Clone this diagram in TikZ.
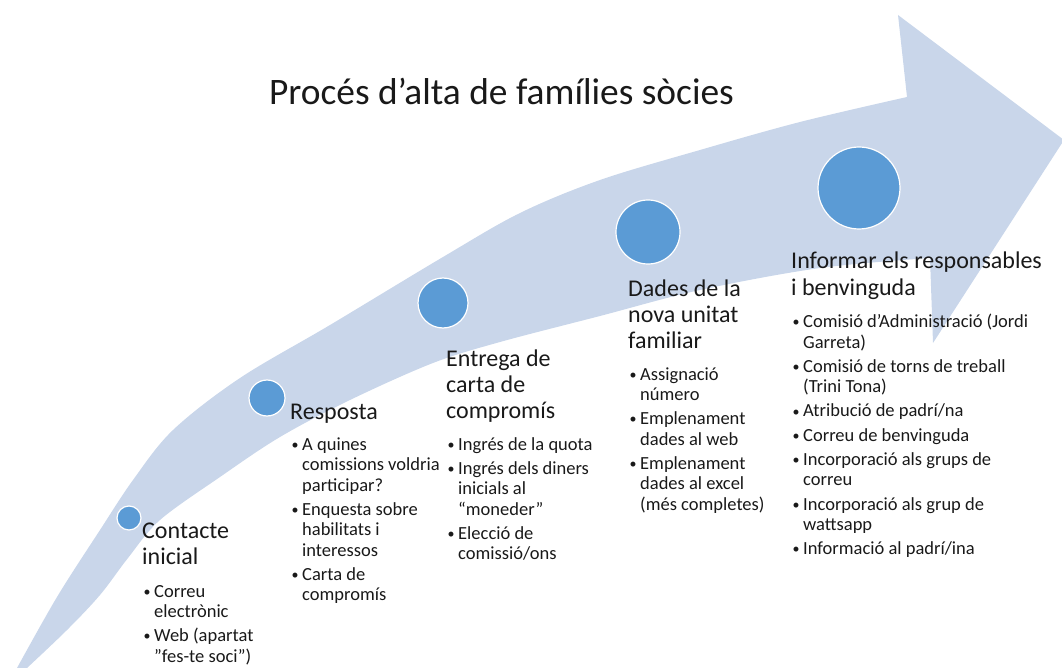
\documentclass[tikz,border=0pt]{standalone}
\usepackage{fontspec}
\setmainfont{Carlito}
\usetikzlibrary{calc}

\definecolor{bandblue}{RGB}{201,214,234}
\definecolor{stepblue}{RGB}{91,155,213}
\definecolor{steptext}{RGB}{25,25,25}

\tikzset{
  stepdot/.style={circle, fill=stepblue, draw=white, line width=1.2pt, inner sep=0pt, minimum size=#1},
  stephead/.style={anchor=base west, inner sep=0pt, text=steptext, font=\fontsize{24}{26.4}\selectfont},
  steplist/.style={anchor=base west, inner sep=0pt, text=steptext, font=\fontsize{18.5}{20.5}\selectfont}
}
% text block of a step, first baseline on the node's base
\newcommand{\blk}[1]{\parbox[t]{270pt}{#1\par}}
% one bullet of a step list
\newcommand{\bul}[1]{\par\parskip=3.7pt\hangindent=12pt\hangafter=1\noindent
  \hspace*{1.5pt}\makebox[10.5pt][l]{\raisebox{0.8pt}{\fontsize{14}{14}\selectfont •}}#1}

\begin{document}
\begin{tikzpicture}[x=1pt,y=-1pt]
  \useasboundingbox (0,0) rectangle (1062,668);

  % the curved arrow
  \fill[bandblue] plot[smooth, tension=0.55] coordinates {(17,668) (57,597) (100,530) (133,480) (173,430)
      (240,378) (330,325) (443,257) (520,213) (600,180) (700,150) (800,122) (907,97)}
    -- (898,15) -- (1064,140) -- (933,343) -- (930,258)
    -- plot[smooth, tension=0.55] coordinates {(930,258) (820,268) (700,290) (600,316) (500,342)
      (433,363) (350,400) (280,437) (220,477) (160,520) (128,558) (100,595) (67,630) (27,668)}
    -- cycle;

  \node[anchor=base, inner sep=0pt, text=steptext, font=\fontsize{37.4}{40}\selectfont] (title) at (501.5,105)
    {Procés d’alta de famílies sòcies};

  \node[stepdot=24pt] (contacte) at (129,518) {};
  \node[stepdot=36pt] (resposta) at (267,398) {};
  \node[stepdot=50pt] (entrega) at (443,303) {};
  \node[stepdot=64pt] (dades) at (648,232) {};
  \node[stepdot=82pt] (informar) at (859,188) {};

  \node[stephead] (contacte-h) at (142,538) {\blk{Contacte\\inicial}};
  \node[steplist] (contacte-l) at (142,597)
    {\blk{\bul{Correu\newline electrònic}\bul{Web (apartat\newline ”fes-te soci”)}}};

  \node[stephead] (resposta-h) at (290,419) {\blk{Resposta}};
  \node[steplist] (resposta-l) at (290,450)
    {\blk{\bul{A quines\newline comissions voldria\newline participar?}%
     \bul{Enquesta sobre\newline habilitats i\newline interessos}%
     \bul{Carta de\newline compromís}}};

  \node[stephead] (entrega-h) at (446,366) {\blk{Entrega de\\carta de\\compromís}};
  \node[steplist] (entrega-l) at (446,450)
    {\blk{\bul{Ingrés de la quota}%
     \bul{Ingrés dels diners\newline inicials al\newline “moneder”}%
     \bul{Elecció de\newline comissió/ons}}};

  \node[stephead] (dades-h) at (628,296) {\blk{Dades de la\\nova unitat\\familiar}};
  \node[steplist] (dades-l) at (628,380)
    {\blk{\bul{Assignació\newline número}%
     \bul{Emplenament\newline dades al web}%
     \bul{Emplenament\newline dades al excel\newline (més completes)}}};

  \node[stephead] (informar-h) at (791,269) {\blk{Informar els responsables\\i benvinguda}};
  \node[steplist] (informar-l) at (791,327.5)
    {\blk{\bul{Comisió d’Administració (Jordi\newline Garreta)}%
     \bul{Comisió de torns de treball\newline (Trini Tona)}%
     \bul{Atribució de padrí/na}%
     \bul{Correu de benvinguda}%
     \bul{Incorporació als grups de\newline correu}%
     \bul{Incorporació als grup de\newline wattsapp}%
     \bul{Informació al padrí/ina}}};
\end{tikzpicture}
\end{document}
